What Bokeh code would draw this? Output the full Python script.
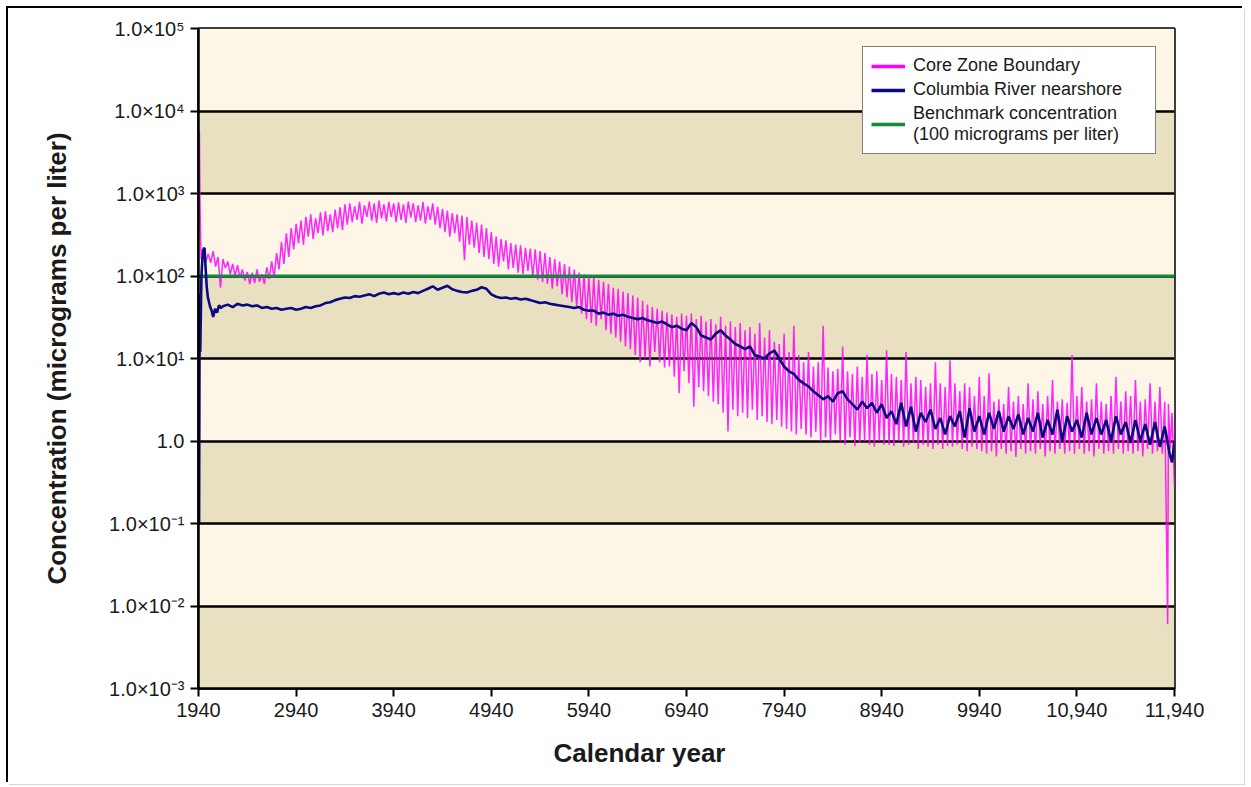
from bokeh.plotting import figure
from bokeh.models import (FixedTicker, CustomJSTickFormatter, Legend, LegendItem,
                          Title, Range1d)
from bokeh.embed import file_html
from bokeh.resources import INLINE

# ---------------- data ----------------
X_TICKS = [1940, 2940, 3940, 4940, 5940, 6940, 7940, 8940, 9940, 10940, 11940]
X_TICK_LABELS = ["1940", "2940", "3940", "4940", "5940", "6940", "7940", "8940",
                 "9940", "10,940", "11,940"]
Y_TICKS = [1e-3, 1e-2, 1e-1, 1.0, 1e1, 1e2, 1e3, 1e4, 1e5]
Y_TICK_LABELS = ["1.0×10⁻³", "1.0×10⁻²", "1.0×10⁻¹", "1.0", "1.0×10¹",
                 "1.0×10²", "1.0×10³", "1.0×10⁴", "1.0×10⁵"]
BAND_COLORS = ["#E8E0C1", "#FDF6E7", "#E8E0C1", "#FDF6E7",
               "#E8E0C1", "#FDF6E7", "#E8E0C1", "#FDF6E7"]

BENCHMARK = 100.0  # micrograms per liter

# Core Zone Boundary (magenta)
CZB_EARLY_YEARS = [1940, 1949, 1955, 1962, 1968, 1975, 1982]
CZB_EARLY = [300, 5800, 800, 260, 160, 210, 170]
CZB_STEP_START = 1990   # sampled every 25 years from here
CZB_STEP = 25
CZB_MAIN = [
    195, 150, 185, 145, 200, 130, 170, 72, 160, 125, 150, 105, 140, 100, 135, 95, 120, 88, 112, 80,
    110, 82, 120, 85, 105, 80, 127, 92, 150, 95, 190, 120, 260, 140, 330, 170, 380, 210, 430, 250,
    470, 240, 520, 300, 560, 280, 500, 330, 590, 310, 610, 350, 560, 340, 640, 380, 680, 360, 740, 420,
    760, 450, 700, 480, 790, 430, 720, 520, 800, 470, 760, 440, 820, 500, 740, 460, 790, 520, 760, 450,
    780, 480, 740, 440, 800, 510, 760, 450, 720, 470, 790, 430, 700, 480, 760, 420, 690, 380, 650, 340,
    620, 300, 580, 330, 560, 260, 540, 155, 520, 240, 470, 220, 440, 190, 420, 170, 380, 160, 340, 140,
    300, 130, 280, 150, 270, 120, 250, 125, 240, 110, 235, 105, 220, 115, 215, 96, 210, 90, 200, 85,
    190, 80, 170, 70, 160, 75, 150, 60, 140, 55, 130, 48, 120, 42, 110, 35, 105, 30, 98, 27,
    96, 25, 90, 30, 85, 22, 80, 20, 72, 18, 70, 16, 65, 14, 62, 13, 58, 11, 55, 9,
    50, 10, 45, 8, 42, 12, 40, 9, 38, 7.8, 36, 8, 34, 6, 32, 3.8, 35, 7, 33, 5,
    35, 2.6, 30, 4.5, 33, 4, 28, 3.5, 30, 3, 26, 2.8, 32, 2.2, 25, 1.3, 28, 2.4, 24, 2,
    27, 2.2, 22, 1.9, 24, 2.4, 20, 1.8, 27, 2, 18, 1.7, 22, 1.6, 16, 1.8, 15, 1.5, 20, 1.4,
    12, 1.3, 25, 1.2, 11, 1.4, 9, 1.2, 12, 1.1, 8, 1.3, 9, 1.0, 25, 1.1, 7.8, 1.0, 7, 1.2,
    7.5, 1.0, 14, 0.9, 7, 1.1, 6.5, 0.87, 8, 0.95, 6, 1.0, 11, 0.9, 6.5, 0.85, 7, 1.0, 5.5, 0.9,
    12.6, 0.9, 6.5, 0.87, 6, 1.0, 5.5, 0.85, 12, 0.9, 5, 0.95, 6, 0.8, 5.5, 0.9, 4.5, 0.85, 5, 0.8,
    9, 0.9, 5, 0.8, 4.5, 0.87, 9.5, 0.85, 5, 0.9, 4, 0.8, 5, 0.75, 4.5, 0.85, 3.5, 0.8, 6, 0.75,
    3.5, 0.7, 6.6, 0.75, 3, 0.65, 3.2, 0.8, 2.8, 0.7, 4.5, 0.75, 3, 0.64, 3.5, 0.8, 2.8, 0.7, 5, 0.75,
    3.2, 0.7, 4, 0.8, 2.8, 0.65, 3.5, 0.75, 5.5, 0.7, 3, 0.8, 3.2, 0.7, 2.9, 0.75, 11, 0.7, 3.5, 0.8,
    4.5, 0.7, 3, 0.75, 3.2, 0.65, 5, 0.8, 3, 0.7, 2.8, 0.75, 3.5, 0.7, 6, 0.8, 3, 0.7, 4, 0.75,
    3.5, 0.7, 5.5, 0.75, 3, 0.65, 3.2, 0.8, 5, 0.7, 3, 0.75, 4.5, 0.7, 3,
]
CZB_TAIL_YEARS = [11870, 11878, 11895, 11915, 11940]
CZB_TAIL = [0.006, 2.8, 0.8, 2.2, 0.28]

# Columbia River nearshore (navy)
CRN_EARLY_YEARS = [1946, 1950, 1954, 1958, 1963, 1970, 1980, 1992, 2002,
                   2012, 2024, 2036, 2048, 2060, 2075, 2090, 2110, 2130, 2150, 2170]
CRN_EARLY = [0.1, 8, 60, 12, 30, 100, 160, 210, 220,
             130, 75, 55, 48, 42, 38, 32, 40, 36, 44, 41]
CRN_STEP_START = 2190   # sampled every 50 years from here
CRN_STEP = 50
CRN_MAIN = [
    43, 45, 42, 46, 44, 45, 43, 44, 41, 42,
    40, 41, 39, 40, 41, 39, 40, 42, 41, 43,
    44, 47, 48, 51, 53, 55, 54, 57, 56, 58,
    60, 57, 61, 63, 60, 62, 60, 63, 61, 64,
    62, 66, 70, 75, 68, 72, 76, 69, 66, 64,
    63, 66, 68, 73, 70, 60, 56, 54, 55, 53,
    54, 52, 53, 51, 49, 47, 48, 46, 45, 44,
    43, 42, 41, 42, 39, 38, 38, 35, 36, 34,
    35, 33, 34, 32, 31, 30, 31, 29, 28, 27,
    28, 26, 24, 25, 23, 22, 27, 24, 19, 18,
    17, 20, 22, 19, 17, 15, 14, 13, 14, 11,
    10.5, 10, 11.5, 12.5, 10, 8, 7, 6.5, 5.5, 5,
    4.6, 4.0, 3.6, 3.2, 3.5, 3.0, 3.8, 4.0, 3.2, 2.8,
    2.4, 3.0, 2.5, 2.9, 2.2, 2.8, 1.9, 2.3, 1.6, 2.9,
    1.5, 2.6, 1.3, 2.2, 1.7, 2.4, 1.4, 1.9, 1.2, 2.0,
    1.5, 2.3, 1.1, 2.5, 1.3, 2.0, 1.2, 2.2, 1.4, 2.3,
    1.3, 2.0, 1.4, 2.1, 1.2, 1.9, 1.3, 2.2, 1.1, 1.8,
    1.2, 2.4, 1.0, 2.0, 1.3, 1.8, 1.1, 2.2, 1.2, 1.9,
    1.2, 1.8, 1.0, 2.0, 1.2, 1.7, 0.95, 1.8, 1.0, 1.6,
    0.9, 1.7, 0.85, 1.5, 0.7,
]
CRN_TAIL_YEARS = [11915, 11940]
CRN_TAIL = [0.55, 1.0]

czb_years = CZB_EARLY_YEARS + [CZB_STEP_START + CZB_STEP * i for i in range(len(CZB_MAIN))] + CZB_TAIL_YEARS
czb_vals = CZB_EARLY + CZB_MAIN + CZB_TAIL
crn_years = CRN_EARLY_YEARS + [CRN_STEP_START + CRN_STEP * i for i in range(len(CRN_MAIN))] + CRN_TAIL_YEARS
crn_vals = CRN_EARLY + CRN_MAIN + CRN_TAIL
bm_years = [X_TICKS[0], X_TICKS[-1]]
bm_vals = [BENCHMARK, BENCHMARK]

FONT = "Liberation Sans"
MAGENTA = "#FF00FF"
NAVY = "#0A0A80"
GREEN = "#138A3E"
TEXT = "#1a1a1a"

# ---------------- figure ----------------
p = figure(width=1236, height=776,
           x_range=Range1d(X_TICKS[0], X_TICKS[-1]),
           y_range=Range1d(Y_TICKS[0], Y_TICKS[-1]),
           y_axis_type="log",
           output_backend="svg", toolbar_location=None,
           min_border_left=190, min_border_right=70,
           min_border_top=20, min_border_bottom=96,
           background_fill_color="#FDF6E7", border_fill_color="white",
           outline_line_color="black", outline_line_width=2.5)
p.styles = {"margin": "8px 0 0 8px",
            "box-shadow": "-2px -2px 0 0 black, 1px 1px 0 0 #d8d8d8"}

# alternating bands between decades
p.quad(left=X_TICKS[0], right=X_TICKS[-1], bottom=Y_TICKS[:-1], top=Y_TICKS[1:],
       fill_color=BAND_COLORS, line_color=None, level="image")

# grids
p.xgrid.grid_line_color = None
p.ygrid.ticker = FixedTicker(ticks=Y_TICKS)
p.ygrid.grid_line_color = "black"
p.ygrid.grid_line_width = 2.5
p.ygrid.grid_line_alpha = 1.0

# data lines
r_czb = p.line(czb_years, czb_vals, line_color=MAGENTA, line_width=1.5, line_alpha=0.85)
r_bm = p.line(bm_years, bm_vals, line_color=GREEN, line_width=3)
r_crn = p.line(crn_years, crn_vals, line_color=NAVY, line_width=2.6)

# legend swatches (hidden duplicates drawn with thicker lines)
lg_czb = p.line(czb_years, czb_vals, line_color=MAGENTA, line_width=3.5, visible=False)
lg_crn = p.line(crn_years, crn_vals, line_color=NAVY, line_width=3.5, visible=False)
lg_bm = p.line(bm_years, bm_vals, line_color=GREEN, line_width=3.5, visible=False)

legend = Legend(items=[
    LegendItem(label="Core Zone Boundary", renderers=[lg_czb]),
    LegendItem(label="Columbia River nearshore", renderers=[lg_crn]),
    LegendItem(label="Benchmark concentration\n(100 micrograms per liter)", renderers=[lg_bm]),
], location="top_right")
legend.margin = 18
legend.padding = 8
legend.spacing = 3
legend.glyph_width = 34
legend.glyph_height = 18
legend.label_height = 18
legend.label_width = 234
legend.label_standoff = 8
legend.label_text_font = FONT
legend.label_text_font_size = "18px"
legend.label_text_color = TEXT
legend.label_text_line_height = 1.25
legend.border_line_color = "black"
legend.border_line_width = 1.5
legend.background_fill_color = "white"
legend.background_fill_alpha = 1.0
p.add_layout(legend)

# axes
FMT_LOG = """
    let best = 0, bd = Infinity;
    for (let i = 0; i < tick_vals.length; i++) {
        const d = Math.abs(Math.log10(tick) - Math.log10(tick_vals[i]));
        if (d < bd) { bd = d; best = i; }
    }
    return tick_labels[best];
"""
FMT_LIN = """
    let best = 0, bd = Infinity;
    for (let i = 0; i < tick_vals.length; i++) {
        const d = Math.abs(tick - tick_vals[i]);
        if (d < bd) { bd = d; best = i; }
    }
    return tick_labels[best];
"""
p.yaxis.ticker = FixedTicker(ticks=Y_TICKS)
p.yaxis.formatter = CustomJSTickFormatter(args=dict(tick_vals=Y_TICKS, tick_labels=Y_TICK_LABELS), code=FMT_LOG)
p.xaxis.ticker = FixedTicker(ticks=X_TICKS)
p.xaxis.formatter = CustomJSTickFormatter(args=dict(tick_vals=X_TICKS, tick_labels=X_TICK_LABELS), code=FMT_LIN)
for ax in (p.xaxis, p.yaxis):
    ax.axis_line_color = "black"
    ax.axis_line_width = 2.5
    ax.major_tick_line_color = "black"
    ax.major_tick_line_width = 2
    ax.major_tick_out = 8
    ax.major_tick_in = 0
    ax.minor_tick_line_color = None
    ax.major_label_text_font = FONT
    ax.major_label_text_font_size = "20px"
    ax.major_label_text_color = TEXT
p.yaxis.major_label_standoff = 6
p.xaxis.major_label_standoff = 6

p.yaxis.axis_label = "Concentration (micrograms per liter)"
p.yaxis.axis_label_text_font = FONT
p.yaxis.axis_label_text_font_size = "26px"
p.yaxis.axis_label_text_font_style = "bold"
p.yaxis.axis_label_text_color = TEXT
p.yaxis.axis_label_standoff = 34

p.add_layout(Title(text="Calendar year", align="left", offset=355, standoff=32,
                   text_font=FONT, text_font_size="26px", text_font_style="bold",
                   text_color=TEXT), "below")

open("out.html", "w").write(file_html(p, INLINE))
